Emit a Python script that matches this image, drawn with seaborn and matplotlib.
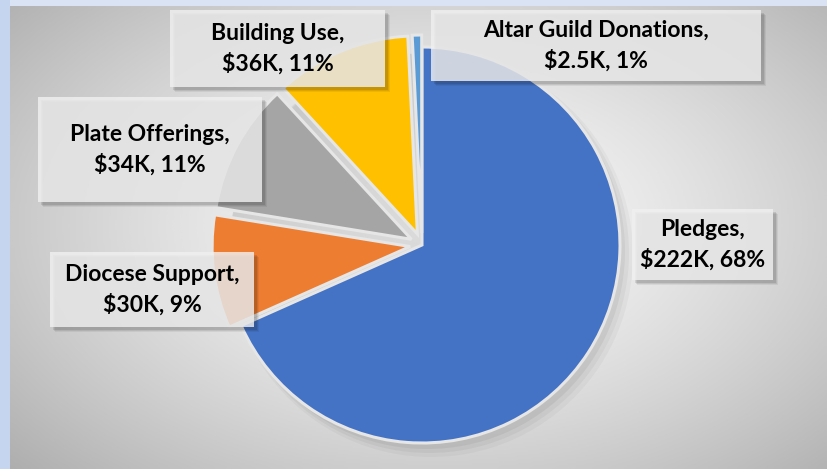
import numpy as np
import matplotlib
matplotlib.use("Agg")
import matplotlib.pyplot as plt
import matplotlib.patches as mpatches
import seaborn as sns

# ------------------------------------------------------------------
# data (in $K), order = clockwise from 12 o'clock
# ------------------------------------------------------------------
categories = ["Pledges", "Diocese Support", "Plate Offerings", "Building Use", "Altar Guild Donations"]
values = [222, 30, 34.4, 36, 2.5]
value_labels = ["$222K", "$30K", "$34K", "$36K", "$2.5K"]
colors = ["#4472C4", "#ED7D31", "#A5A5A5", "#FFC000", "#5B9BD5"]

sns.set_theme(style="white")
plt.rcParams["font.family"] = ["Lato", "DejaVu Sans"]

W, H = 827, 469
fig = plt.figure(figsize=(W / 100, H / 100), dpi=100)
fig.patch.set_facecolor("#dae3f3")

# left blue strip of the frame
strip = fig.add_axes([0, 0, 10 / W, 1])
strip.set_facecolor("#c5d5ef")
strip.set_xticks([]); strip.set_yticks([])
for s in strip.spines.values():
    s.set_visible(False)

# grey radial gradient panel
bg = fig.add_axes([10 / W, 0, 1 - 10 / W, 1 - 6 / H])
gx, gy = np.meshgrid(np.linspace(-1, 1, 400), np.linspace(-1, 1, 240))
d = np.sqrt(((gx - 0.05) / 1.15) ** 2 + ((gy + 0.05) / 1.25) ** 2)
shade = np.clip(0.98 - 0.22 * d ** 1.4, 0, 1)
bg.imshow(shade, cmap="gray", vmin=0, vmax=1, aspect="auto", interpolation="bicubic")
bg.set_axis_off()

# main axes in pixel coordinates (y up)
ax = fig.add_axes([0, 0, 1, 1])
ax.set_xlim(0, W)
ax.set_ylim(0, H)
ax.set_axis_off()
ax.patch.set_alpha(0)

cx, cy, r = 422, H - 245, 198
total = sum(values)
explode = [0, 12, 12, 12, 12]

# soft shadow under the pie
for k, a in enumerate([0.05, 0.04, 0.03]):
    ax.add_patch(mpatches.Circle((cx + 5 + 2 * k, cy - 6 - 2 * k), r + 2 * k,
                                 facecolor="black", alpha=a, edgecolor="none", zorder=1))

wedges, _ = ax.pie(values, colors=colors, startangle=90, counterclock=False,
                   explode=explode, center=(cx, cy), radius=r,
                   wedgeprops=dict(edgecolor="#e6e6e6", linewidth=2.2), frame=True)
for w in wedges:
    w.set_zorder(2)
ax.set_xlim(0, W)
ax.set_ylim(0, H)
ax.set_axis_off()
ax.set_aspect("equal")

# label boxes: (x0, y0_top, x1, y1_bottom) in screen px
boxes = {
    "Pledges": (632, 209, 773, 280),
    "Diocese Support": (50, 252, 254, 327),
    "Plate Offerings": (38, 97, 262, 202),
    "Building Use": (170, 10, 385, 87),
    "Altar Guild Donations": (431, 10, 761, 81),
}

for name, val, lab in zip(categories, values, value_labels):
    pct = 100 * val / total
    x0, y0, x1, y1 = boxes[name]
    bw, bh = x1 - x0, y1 - y0
    # shadow
    for k, a in enumerate([0.10, 0.08, 0.06]):
        ax.add_patch(mpatches.Rectangle((x0 + 3 + k, H - y1 - 3 - k), bw, bh,
                                        facecolor="black", alpha=a, edgecolor="none", zorder=3))
    ax.add_patch(mpatches.Rectangle((x0, H - y1), bw, bh, facecolor="#f0f0f0",
                                    alpha=0.82, edgecolor="none", zorder=4))
    ax.text((x0 + x1) / 2, H - (y0 + y1) / 2, f"{name},\n{lab}, {pct:.0f}%",
            ha="center", va="center", fontsize=16.5, fontweight="bold",
            color="black", linespacing=1.45, zorder=5)

fig.savefig("out.png", dpi=100)
